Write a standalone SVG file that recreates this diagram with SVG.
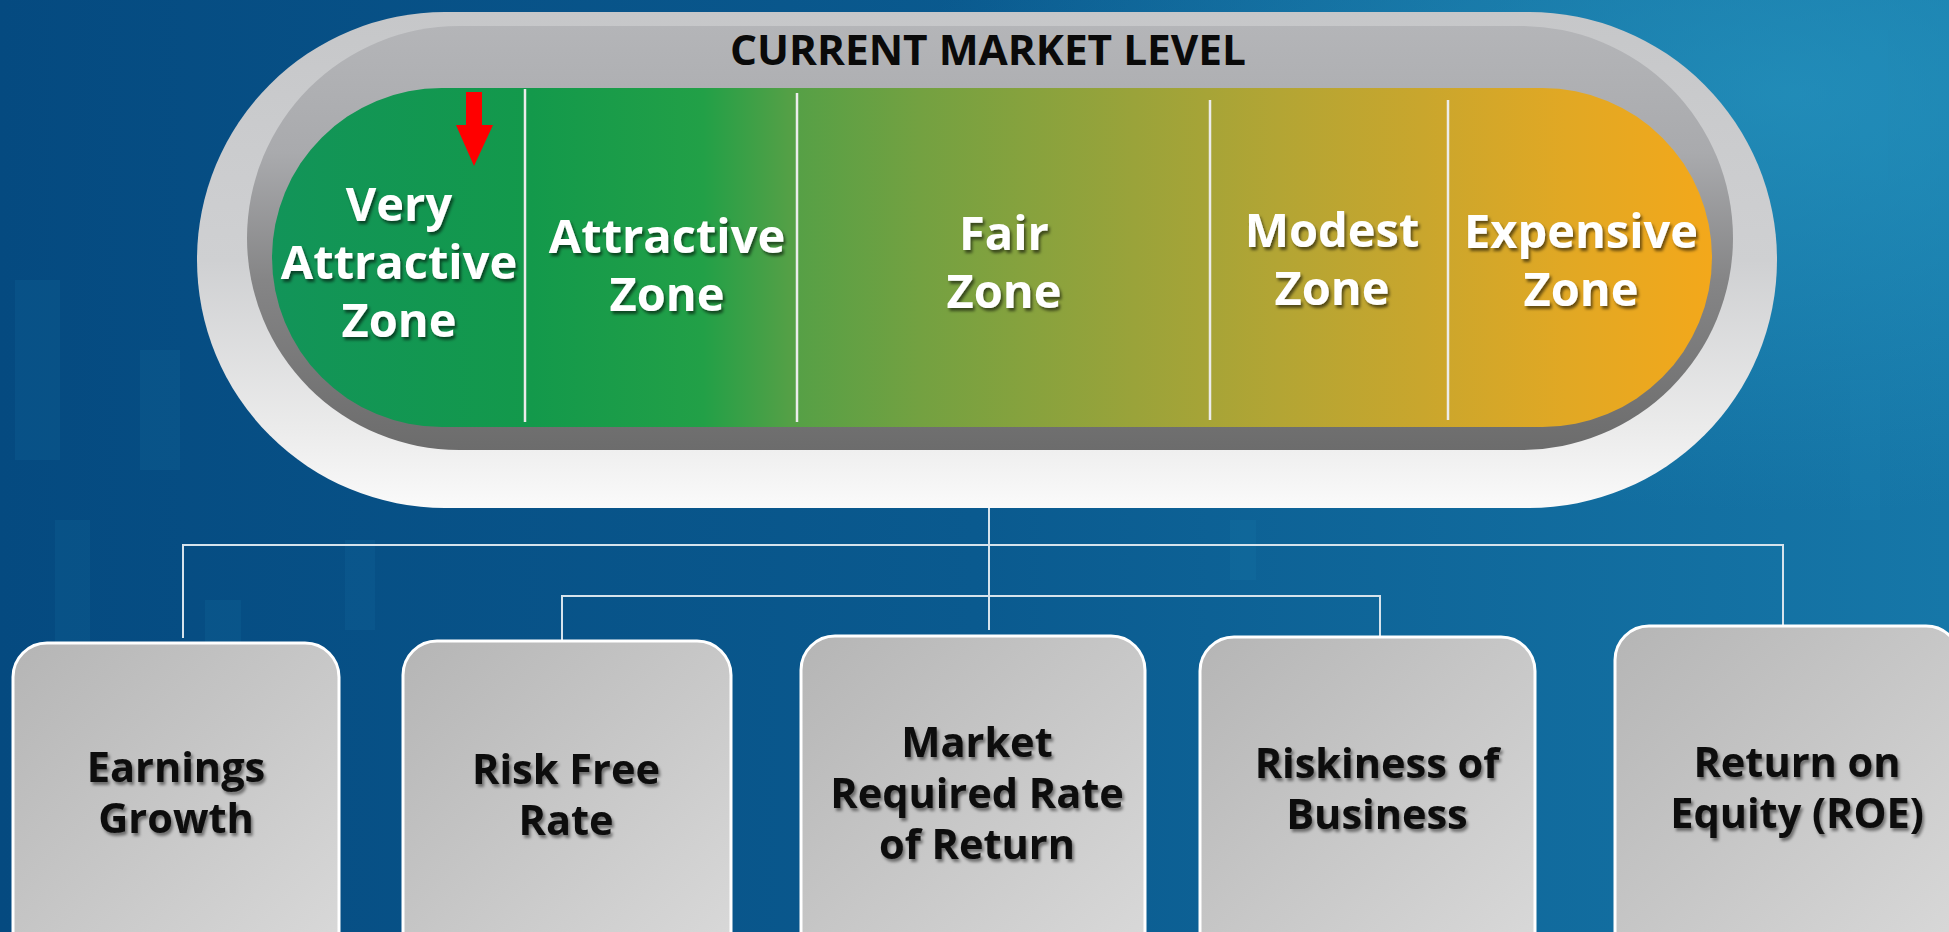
<svg xmlns="http://www.w3.org/2000/svg" width="1949" height="932" viewBox="0 0 1949 932">
<defs>
<linearGradient id="bg" x1="0" y1="0" x2="1" y2="0">
<stop offset="0" stop-color="#054a80"/>
<stop offset="0.5" stop-color="#0a5a8f"/>
<stop offset="1" stop-color="#1677a8"/>
</linearGradient>
<radialGradient id="bgglow" cx="0.92" cy="0.1" r="0.45">
<stop offset="0" stop-color="#2a9cc4" stop-opacity="0.6"/>
<stop offset="1" stop-color="#2a9cc4" stop-opacity="0"/>
</radialGradient>
<linearGradient id="outer" x1="0" y1="0" x2="0" y2="1">
<stop offset="0" stop-color="#c6c7c9"/>
<stop offset="0.5" stop-color="#cfd0d2"/>
<stop offset="0.85" stop-color="#ececec"/>
<stop offset="1" stop-color="#fafafa"/>
</linearGradient>
<linearGradient id="ring" x1="0" y1="0" x2="0" y2="1">
<stop offset="0" stop-color="#b4b5b8"/>
<stop offset="0.3" stop-color="#a9aaad"/>
<stop offset="0.6" stop-color="#858586"/>
<stop offset="1" stop-color="#6c6c6c"/>
</linearGradient>
<linearGradient id="zones" x1="272" y1="0" x2="1710" y2="0" gradientUnits="userSpaceOnUse">
<stop offset="0" stop-color="#129459"/>
<stop offset="0.18" stop-color="#13994b"/>
<stop offset="0.3" stop-color="#22a047"/>
<stop offset="0.36" stop-color="#54a046"/>
<stop offset="0.45" stop-color="#73a141"/>
<stop offset="0.6" stop-color="#9aa33a"/>
<stop offset="0.7" stop-color="#b3a534"/>
<stop offset="0.8" stop-color="#c9a62d"/>
<stop offset="0.9" stop-color="#e1a824"/>
<stop offset="1" stop-color="#f3a81b"/>
</linearGradient>
<linearGradient id="box" x1="0" y1="0" x2="1" y2="1">
<stop offset="0" stop-color="#b5b5b5"/>
<stop offset="1" stop-color="#dadada"/>
</linearGradient>
<filter id="sh" x="-10%" y="-20%" width="120%" height="150%">
<feDropShadow dx="2" dy="3" stdDeviation="1.5" flood-color="#000" flood-opacity="0.55"/>
</filter>
<filter id="shd" x="-10%" y="-20%" width="120%" height="150%">
<feDropShadow dx="2" dy="3" stdDeviation="1.5" flood-color="#000" flood-opacity="0.45"/>
</filter>
</defs>
<style>
.zt{font-family:"Open Sans","Noto Sans","DejaVu Sans",sans-serif;font-weight:700;font-size:47px;fill:#ffffff;text-anchor:middle;filter:url(#sh)}
.bt{font-family:"Open Sans","Noto Sans","DejaVu Sans",sans-serif;font-weight:700;font-size:41.5px;fill:#0a0a0a;text-anchor:middle;filter:url(#shd)}
.title{font-family:"Open Sans","Noto Sans","DejaVu Sans",sans-serif;font-weight:700;font-size:42px;fill:#0a0a0a;text-anchor:middle}
.div{stroke:#ececec;stroke-width:2.5;fill:none}
.con{stroke:#d6e3ec;stroke-width:2;fill:none}
.card{fill:url(#box);stroke:#ffffff;stroke-width:3}
.candle{fill:#2a8fc0;opacity:0.1}
</style>
<rect x="0" y="0" width="1949" height="932" fill="url(#bg)"/>
<rect x="0" y="0" width="1949" height="932" fill="url(#bgglow)"/>
<g id="background-candles">
<rect class="candle" x="15" y="280" width="45" height="180"/>
<rect class="candle" x="55" y="520" width="35" height="140"/>
<rect class="candle" x="140" y="350" width="40" height="120"/>
<rect class="candle" x="205" y="600" width="36" height="110"/>
<rect class="candle" x="345" y="540" width="30" height="90"/>
<rect class="candle" x="1800" y="60" width="30" height="120"/>
<rect class="candle" x="1860" y="30" width="28" height="150"/>
<rect class="candle" x="1900" y="110" width="30" height="100"/>
<rect class="candle" x="1850" y="380" width="30" height="140"/>
<rect class="candle" x="1230" y="520" width="26" height="60"/>
</g>
<g id="connectors">
<path class="con" d="M989 508 V630"/>
<path class="con" d="M183 638 V545 H1783 V625"/>
<path class="con" d="M562 640 V596 H1380 V636"/>
</g>
<g id="gauge">
<rect x="197" y="12" width="1580" height="496" rx="248" fill="url(#outer)"/>
<rect x="247" y="26" width="1486" height="424" rx="212" fill="url(#ring)"/>
<rect x="272" y="88" width="1440" height="339" rx="169.5" fill="url(#zones)"/>
<text class="title" x="988" y="65" textLength="516" lengthAdjust="spacingAndGlyphs">CURRENT MARKET LEVEL</text>
<line class="div" x1="525" y1="89" x2="525" y2="422"/>
<line class="div" x1="797" y1="93" x2="797" y2="422"/>
<line class="div" x1="1210" y1="100" x2="1210" y2="420"/>
<line class="div" x1="1448" y1="100" x2="1448" y2="420"/>
</g>
<g id="zone-very-attractive">
<text class="zt" x="399" y="221">Very</text>
<text class="zt" x="399" y="279">Attractive</text>
<text class="zt" x="399" y="337">Zone</text>
</g>
<g id="marker-arrow">
<rect x="466" y="92" width="16" height="34" fill="#ff0000"/>
<polygon points="456,125 493,125 474,166" fill="#ff0000"/>
</g>
<g id="zone-attractive">
<text class="zt" x="667" y="253">Attractive</text>
<text class="zt" x="667" y="311">Zone</text>
</g>
<g id="zone-fair">
<text class="zt" x="1004" y="250">Fair</text>
<text class="zt" x="1004" y="308">Zone</text>
</g>
<g id="zone-modest">
<text class="zt" x="1332" y="247">Modest</text>
<text class="zt" x="1332" y="305">Zone</text>
</g>
<g id="zone-expensive">
<text class="zt" x="1581" y="248">Expensive</text>
<text class="zt" x="1581" y="306">Zone</text>
</g>
<g id="box-earnings-growth">
<rect class="card" x="13" y="643" width="326" height="330" rx="34"/>
<text class="bt" x="176" y="782">Earnings</text>
<text class="bt" x="176" y="833">Growth</text>
</g>
<g id="box-risk-free-rate">
<rect class="card" x="403" y="641" width="328" height="330" rx="34"/>
<text class="bt" x="566" y="784">Risk Free</text>
<text class="bt" x="566" y="835">Rate</text>
</g>
<g id="box-market-required-rate">
<rect class="card" x="801" y="636" width="344" height="335" rx="34"/>
<text class="bt" x="977" y="757">Market</text>
<text class="bt" x="977" y="808">Required Rate</text>
<text class="bt" x="977" y="859">of Return</text>
</g>
<g id="box-riskiness-of-business">
<rect class="card" x="1200" y="637" width="335" height="335" rx="34"/>
<text class="bt" x="1377" y="778">Riskiness of</text>
<text class="bt" x="1377" y="829">Business</text>
</g>
<g id="box-return-on-equity">
<rect class="card" x="1615" y="626" width="345" height="345" rx="34"/>
<text class="bt" x="1797" y="777">Return on</text>
<text class="bt" x="1797" y="828">Equity (ROE)</text>
</g>
</svg>
